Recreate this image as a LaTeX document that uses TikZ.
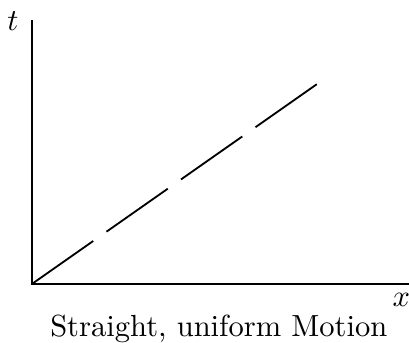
\documentclass[tikz,border=0pt]{standalone}
\usetikzlibrary{positioning}
\begin{document}
\begin{tikzpicture}[line width=0.6pt]
      \def\tmax{3.04}
      \def\xmax{4.34}
      \useasboundingbox (-0.368,-0.679) rectangle (4.339,3.268);
      \coordinate (O) at (0,0);
      \coordinate (T) at (0,\tmax);
      \coordinate (X) at (\xmax,0);
      \coordinate (E) at (3.28,2.30);
      \draw (T) -- (O) -- (X);
      \node (tlab) at (-0.22,3.02) {$t$};
      \node (xlab) at (4.25,-0.18) {$x$};
      \node[anchor=base] (caption) at (2.15,-0.61) {Straight, uniform Motion};
      \draw[dash pattern=on 24.5pt off 5.3pt] (O) -- (E);
    \end{tikzpicture}
\end{document}
